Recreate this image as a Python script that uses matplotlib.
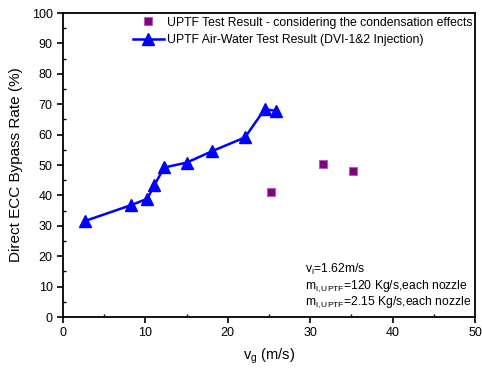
import matplotlib

matplotlib.use("Agg")
import matplotlib.pyplot as plt
from matplotlib.ticker import MultipleLocator

plt.rcParams["font.family"] = ["Liberation Sans", "DejaVu Sans"]
plt.rcParams["mathtext.fontset"] = "custom"
plt.rcParams["mathtext.rm"] = "Liberation Sans"
plt.rcParams["mathtext.it"] = "Liberation Sans"

# UPTF air-water test (DVI-1&2 injection)
vg_air = [2.67, 8.25, 10.23, 11.08, 12.29, 15.01, 18.12, 22.09, 24.48, 25.85]
bypass_air = [31.6, 36.8, 38.9, 43.4, 49.2, 50.8, 54.6, 59.1, 68.4, 67.8]

# UPTF test considering condensation
vg_cond = [25.24, 31.55, 35.2]
bypass_cond = [41.3, 50.3, 48.1]

fig = plt.figure(figsize=(4.82, 3.73), dpi=100)
ax = fig.add_axes([0.1307, 0.150, 0.8548, 0.815])

ax.plot(vg_cond, bypass_cond, ls="none", marker="s", ms=5.5, mfc="#800080",
        mec="#b060b0", mew=0.8,
        label="UPTF Test Result - considering the condensation effects")
ax.plot(vg_air, bypass_air, color="blue", lw=1.8, marker="^", ms=8.5,
        mfc="blue", mec="blue",
        label="UPTF Air-Water Test Result (DVI-1&2 Injection)")

ax.set_xlim(0, 50)
ax.set_ylim(0, 100)
ax.xaxis.set_major_locator(MultipleLocator(10))
ax.xaxis.set_minor_locator(MultipleLocator(5))
ax.yaxis.set_major_locator(MultipleLocator(10))
ax.yaxis.set_minor_locator(MultipleLocator(5))
ax.tick_params(which="major", direction="out", length=4, width=1.2, labelsize=9)
ax.tick_params(which="minor", direction="in", length=2, width=1)
for s in ax.spines.values():
    s.set_linewidth(1.3)

ax.set_xlabel(r"v$_\mathregular{g}$ (m/s)", fontsize=10.5, labelpad=5)
ax.set_ylabel("Direct ECC Bypass Rate (%)", fontsize=11, labelpad=6)

ax.legend(loc="upper left", bbox_to_anchor=(0.161, 1.0), fontsize=8.8,
          frameon=False, borderaxespad=0, handlelength=2.5,
          handletextpad=0.25, borderpad=0.3, labelspacing=0.45)

ann = [r"v$_\mathregular{l}$=1.62m/s",
       r"m$_\mathregular{l,UPTF}$=120 Kg/s,each nozzle",
       r"m$_\mathregular{l,UPTF}$=2.15 Kg/s,each nozzle"]
for i, t in enumerate(ann):
    ax.text(29.4, 15.5 - i * 5.3, t, fontsize=8.7, va="center")

fig.savefig("out.png", dpi=100)
